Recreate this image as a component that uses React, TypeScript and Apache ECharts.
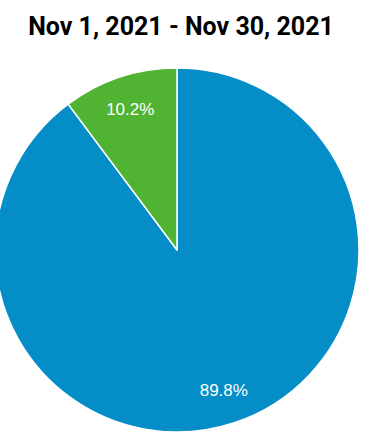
import React, { useEffect, useRef } from "react";
import * as echarts from "echarts";

const titleText = "Nov 1, 2021 - Nov 30, 2021";
const sliceNames = ["A", "B"];
const sliceValues = [89.8, 10.2];
const sliceColors = ["#058DC7", "#50B432"];

export default function App() {
  const ref = useRef<HTMLDivElement>(null);
  useEffect(() => {
    if (!ref.current) return;
    const chart = echarts.init(ref.current, null, { renderer: "svg" });
    const data = sliceNames.map((n, i) => ({
      name: n,
      value: sliceValues[i],
      itemStyle: { color: sliceColors[i] },
    }));
    chart.setOption({
      animation: false,
      title: {
        text: titleText,
        left: 176,
        textAlign: "center",
        top: 9,
        textStyle: {
          fontFamily: "Roboto",
          fontWeight: "bold",
          fontSize: 25,
          color: "#000",
        },
      },
      series: [
        {
          type: "pie",
          center: [177, 250],
          radius: [0, 182],
          startAngle: 90,
          clockwise: true,
          label: { show: false },
          labelLine: { show: false },
          itemStyle: { borderColor: "#fff", borderWidth: 1.5 },
          silent: true,
          data,
        },
        {
          type: "pie",
          center: [177, 250],
          radius: [109, 182],
          startAngle: 90,
          clockwise: true,
          silent: true,
          itemStyle: { color: "transparent", borderWidth: 0 },
          label: {
            show: true,
            position: "inside",
            formatter: (p: any) => p.value.toFixed(1) + "%",
            color: "#fff",
            fontSize: 17,
            fontFamily: "Liberation Sans, Arial, sans-serif",
          },
          labelLine: { show: false },
          data: sliceNames.map((n, i) => ({
            name: n,
            value: sliceValues[i],
            itemStyle: { color: "transparent" },
          })),
        },
      ],
    });
    return () => chart.dispose();
  }, []);
  return (
    <div
      ref={ref}
      style={{ position: "fixed", left: 0, top: 0, width: 373, height: 432, background: "#fff" }}
    />
  );
}
